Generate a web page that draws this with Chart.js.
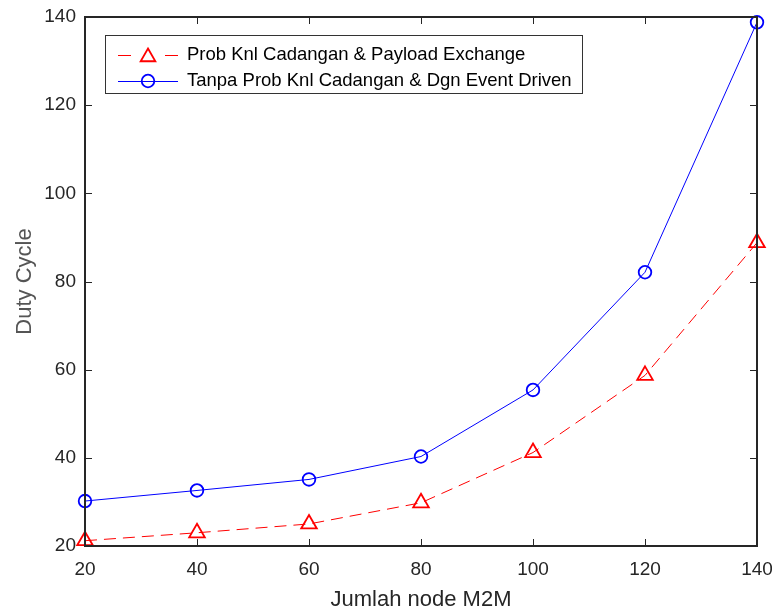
<!DOCTYPE html>
<html>
<head>
<meta charset="utf-8">
<script src="https://cdn.jsdelivr.net/npm/chart.js@4"></script>
<style>
  html, body { margin: 0; padding: 0; background: #fff; }
  #wrap { width: 772px; height: 611px; }
</style>
</head>
<body>
<div id="wrap"><canvas id="grafico"></canvas></div>
<script>
// datos
const jumlahNode = [20, 40, 60, 80, 100, 120, 140];
const probPayload = [21.2, 23.0, 25.0, 29.8, 41.2, 58.7, 88.8];
const tanpaProbEvent = [30.2, 32.6, 35.1, 40.3, 55.4, 82.1, 138.8];
const xTicks = [20, 40, 60, 80, 100, 120, 140];
const yTicks = [20, 40, 60, 80, 100, 120, 140];
const labelRed = 'Prob Knl Cadangan & Payload Exchange';
const labelBlue = 'Tanpa Prob Knl Cadangan & Dgn Event Driven';

const FONT = '"Liberation Sans", Arial, sans-serif';
const AXIS_COLOR = '#262626';

const toPoints = (ys) => jumlahNode.map((x, i) => ({ x: x, y: ys[i] }));

// marco + ticks hacia adentro + leyenda dentro del area
const framePlugin = {
    id: 'frame',
    afterDraw(chart) {
        const { ctx, chartArea: a, scales } = chart;
        ctx.save();
        ctx.strokeStyle = AXIS_COLOR;
        ctx.lineWidth = 1;
        const tl = 7;
        ctx.beginPath();
        xTicks.forEach(v => {
            const px = Math.round(scales.x.getPixelForValue(v)) + 0.5;
            ctx.moveTo(px, a.bottom); ctx.lineTo(px, a.bottom - tl);
            ctx.moveTo(px, a.top); ctx.lineTo(px, a.top + tl);
        });
        yTicks.forEach(v => {
            const py = Math.round(scales.y.getPixelForValue(v)) + 0.5;
            ctx.moveTo(a.left, py); ctx.lineTo(a.left + tl, py);
            ctx.moveTo(a.right, py); ctx.lineTo(a.right - tl, py);
        });
        ctx.stroke();
        ctx.lineWidth = 2;
        ctx.strokeRect(a.left, a.top, a.right - a.left, a.bottom - a.top);

        // leyenda
        const bx = 105, by = 35, bw = 477, bh = 58;
        ctx.fillStyle = '#fff';
        ctx.fillRect(bx, by, bw, bh);
        ctx.lineWidth = 1;
        ctx.strokeStyle = '#333';
        ctx.strokeRect(bx + 0.5, by + 0.5, bw, bh);
        const rows = [
            { ds: chart.data.datasets[0], y: 55 },
            { ds: chart.data.datasets[1], y: 81 }
        ];
        rows.forEach(r => {
            ctx.strokeStyle = r.ds.borderColor;
            ctx.lineWidth = 1;
            ctx.beginPath();
            if (r.ds.borderDash) {
                ctx.moveTo(118, r.y + 0.5); ctx.lineTo(131, r.y + 0.5);
                ctx.moveTo(165, r.y + 0.5); ctx.lineTo(178, r.y + 0.5);
            } else {
                ctx.moveTo(118, r.y + 0.5); ctx.lineTo(178, r.y + 0.5);
            }
            ctx.stroke();
            ctx.lineWidth = r.ds.pointBorderWidth;
            ctx.fillStyle = 'rgba(0,0,0,0)';
            const isTri = r.ds.pointStyle === 'triangle';
            Chart.helpers.drawPoint(ctx, {
                pointStyle: r.ds.pointStyle,
                radius: isTri ? 8.5 : r.ds.pointRadius,
                borderWidth: r.ds.pointBorderWidth,
                rotation: 0
            }, 148, isTri ? r.y + 2 : r.y);
            ctx.fillStyle = '#000';
            ctx.font = '18.5px ' + FONT;
            ctx.textBaseline = 'middle';
            ctx.textAlign = 'left';
            ctx.fillText(r.ds.label, 187, r.y);
        });
        ctx.restore();
    }
};

new Chart(document.getElementById('grafico'), {
    type: 'line',
    data: {
        datasets: [{
            label: labelRed,
            data: toPoints(probPayload),
            borderColor: '#ff0000',
            backgroundColor: 'rgba(0,0,0,0)',
            borderWidth: 1,
            borderDash: [12, 7],
            pointStyle: 'triangle',
            pointRadius: 9,
            pointBorderWidth: 1.8,
            pointBorderColor: '#ff0000',
            pointBackgroundColor: 'rgba(0,0,0,0)',
            tension: 0
        }, {
            label: labelBlue,
            data: toPoints(tanpaProbEvent),
            borderColor: '#0000ff',
            backgroundColor: 'rgba(0,0,0,0)',
            borderWidth: 1,
            pointStyle: 'circle',
            pointRadius: 6.3,
            pointBorderWidth: 1.8,
            pointBorderColor: '#0000ff',
            pointBackgroundColor: 'rgba(0,0,0,0)',
            tension: 0
        }]
    },
    options: {
        responsive: true,
        maintainAspectRatio: false,
        animation: false,
        clip: false,
        layout: { padding: { left: 0, top: 17, right: 15, bottom: 0 } },
        plugins: {
            legend: { display: false },
            tooltip: { enabled: false }
        },
        scales: {
            x: {
                type: 'linear',
                min: 20,
                max: 140,
                afterFit(scale) {
                    scale.height = 65;
                    scale.paddingLeft = 0;
                    scale.paddingRight = 0;
                },
                afterBuildTicks(scale) { scale.ticks = xTicks.map(v => ({ value: v })); },
                grid: { display: false, drawTicks: false },
                border: { display: false },
                ticks: {
                    color: AXIS_COLOR,
                    font: { family: FONT, size: 19 },
                    padding: 12,
                    maxRotation: 0
                },
                title: {
                    display: true,
                    text: 'Jumlah node M2M',
                    color: AXIS_COLOR,
                    font: { family: FONT, size: 22, lineHeight: 1 },
                    padding: { top: 0, bottom: 0 }
                }
            },
            y: {
                min: 20,
                max: 140,
                afterFit(scale) {
                    scale.width = 85;
                    scale.paddingTop = 0;
                    scale.paddingBottom = 0;
                },
                afterBuildTicks(scale) { scale.ticks = yTicks.map(v => ({ value: v })); },
                grid: { display: false, drawTicks: false },
                border: { display: false },
                ticks: {
                    color: AXIS_COLOR,
                    font: { family: FONT, size: 19 },
                    padding: 9
                },
                title: {
                    display: true,
                    text: 'Duty Cycle',
                    color: '#555',
                    font: { family: FONT, size: 22, lineHeight: 1 },
                    padding: { top: 14, bottom: 0 }
                }
            }
        }
    },
    plugins: [framePlugin]
});
</script>
</body>
</html>
